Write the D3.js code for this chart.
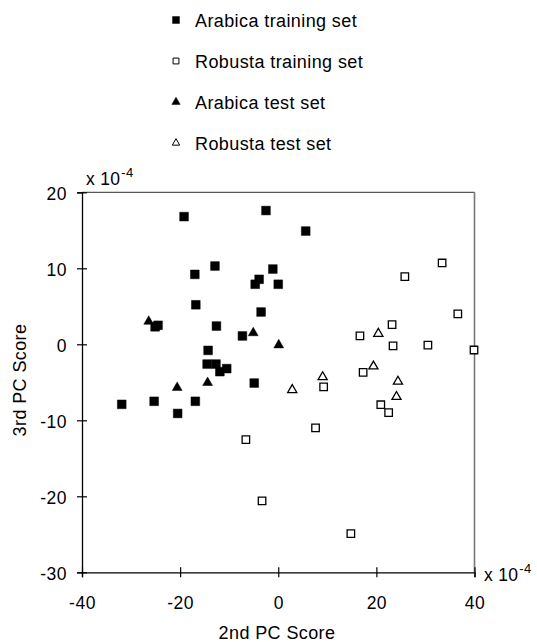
<!DOCTYPE html>
<html>
<head>
<meta charset="utf-8">
<script src="https://cdn.jsdelivr.net/npm/d3@7"></script>
<style>
  body { margin: 0; background: #fff; }
  svg { font-family: "Liberation Sans", Arial, sans-serif; }
</style>
</head>
<body>
<div id="pcaPlot"></div>
<script>
// scores in units of 1e-4
var arabicaTrainX = [-19.2, -2.5, -12.9, -17.0, -1.1, -3.9, -4.7, 0.0, -16.8, -3.5, -24.5, -25.1,
                     -12.6, -7.3, -14.3, -14.5, -12.7, -11.9, -10.5, -4.9, -31.9, -25.3, -16.9, -20.5, 5.6];
var arabicaTrainY = [16.8, 17.6, 10.3, 9.2, 9.9, 8.55, 7.9, 7.9, 5.2, 4.25, 2.5, 2.3,
                     2.4, 1.1, -0.8, -2.6, -2.6, -3.6, -3.2, -5.1, -7.9, -7.5, -7.5, -9.1, 14.9];
var robustaTrainX = [-6.6, -3.3, 33.4, 25.8, 36.6, 23.2, 16.65, 23.4, 30.5, 39.9, 17.3, 9.25, 20.9, 22.5, 7.6, 14.8];
var robustaTrainY = [-12.55, -20.6, 10.7, 8.9, 4.0, 2.6, 1.1, -0.2, -0.1, -0.75, -3.7, -5.6, -7.95, -9.0, -11.0, -24.9];
var arabicaTestX = [-26.4, -5.1, 0.1, -20.6, -14.4];
var arabicaTestY = [3.0, 1.5, -0.1, -5.7, -5.05];
var robustaTestX = [20.4, 19.4, 9.05, 2.85, 24.4, 24.1];
var robustaTestY = [1.4, -2.9, -4.3, -6.0, -4.9, -6.9];

var seriesNames = ["Arabica training set", "Robusta training set", "Arabica test set", "Robusta test set"];
var xTicks = [-40, -20, 0, 20, 40];
var yTicks = [-30, -20, -10, 0, 10, 20];

var width = 537, height = 642;
var plotLeft = 82, plotRight = 474.5, plotTop = 192.3, plotBottom = 572.3;
var fontFam = "Liberation Sans, Arial, sans-serif";

var svg = d3.select("#pcaPlot").append("svg")
    .attr("width", width)
    .attr("height", height);

var x = d3.scaleLinear().domain([-40, 40]).range([plotLeft, plotRight]);
var y = d3.scaleLinear().domain([-30, 20]).range([plotBottom, plotTop]);

// plot frame, top and right edges are grey
svg.append("line").attr("x1", plotLeft).attr("x2", plotRight).attr("y1", plotTop).attr("y2", plotTop)
   .attr("stroke", "#555").attr("stroke-width", 1.3);
svg.append("line").attr("x1", plotRight).attr("x2", plotRight).attr("y1", plotTop).attr("y2", plotBottom)
   .attr("stroke", "#777").attr("stroke-width", 1.6);

// plain hyphen minus like the original
var fmt = function(d) { return String(d); };

// axes with ticks crossing the line
var xAxis = svg.append("g")
    .attr("transform", "translate(0," + plotBottom + ")")
    .call(d3.axisBottom(x).tickValues(xTicks).tickFormat(fmt).tickSize(5).tickPadding(19));
xAxis.selectAll(".tick line").attr("y1", -5).attr("stroke", "#000").attr("stroke-width", 1.2);
xAxis.select(".domain").attr("stroke", "#000").attr("stroke-width", 1.3);
xAxis.selectAll("text").attr("font-size", 17.5).attr("letter-spacing", 0.5)
     .attr("font-family", fontFam).attr("fill", "#000");

var yAxis = svg.append("g")
    .attr("transform", "translate(" + plotLeft + ",0)")
    .call(d3.axisLeft(y).tickValues(yTicks).tickFormat(fmt).tickSize(5).tickPadding(10));
yAxis.selectAll(".tick line").attr("x1", 5).attr("x2", -5).attr("stroke", "#000").attr("stroke-width", 1.2);
yAxis.select(".domain").attr("stroke", "#000").attr("stroke-width", 1.3);
yAxis.selectAll("text").attr("font-size", 17.5).attr("letter-spacing", 0.5).attr("dy", "0.4em")
     .attr("font-family", fontFam).attr("fill", "#000");

// axis titles
svg.append("text").attr("x", 277).attr("y", 639).attr("text-anchor", "middle")
   .attr("font-size", 18).attr("letter-spacing", 0.4).text("2nd PC Score");
svg.append("text").attr("transform", "translate(26,380) rotate(-90)").attr("text-anchor", "middle")
   .attr("font-size", 18).attr("letter-spacing", 0.4).text("3rd PC Score");

// scale multipliers
function multiplier(px, py) {
  var t = svg.append("text").attr("x", px).attr("y", py).attr("font-size", 17.5).attr("letter-spacing", 0.3);
  t.append("tspan").text("x 10");
  t.append("tspan").attr("dy", -8).attr("dx", 1).attr("font-size", 13).text("-4");
}
multiplier(86, 185);
multiplier(484, 581);

var sq = d3.symbol().type(d3.symbolSquare);
var tri = d3.symbol().type(d3.symbolTriangle);

function plotSeries(xs, ys, gen, size, filled) {
  svg.append("g").selectAll("path")
    .data(xs.map(function(d, i) { return [d, ys[i]]; }))
    .enter().append("path")
    .attr("transform", function(d) { return "translate(" + x(d[0]) + "," + y(d[1]) + ")"; })
    .attr("d", gen.size(size)())
    .attr("fill", filled ? "#000" : "#fff")
    .attr("stroke", "#000")
    .attr("stroke-width", filled ? 0.5 : 1.3);
}

plotSeries(robustaTrainX, robustaTrainY, sq, 56, false);
plotSeries(robustaTestX, robustaTestY, tri, 36, false);
plotSeries(arabicaTrainX, arabicaTrainY, sq, 76, true);
plotSeries(arabicaTestX, arabicaTestY, tri, 42, true);

// legend
var legendGen = [[sq, 48, true], [sq, 34, false], [tri, 30, true], [tri, 24, false]];
var legend = svg.append("g").selectAll("g")
    .data(seriesNames)
    .enter().append("g")
    .attr("transform", function(d, i) { return "translate(176," + (20 + i * 41) + ")"; });
legend.append("path")
    .attr("d", function(d, i) { return legendGen[i][0].size(legendGen[i][1])(); })
    .attr("fill", function(d, i) { return legendGen[i][2] ? "#000" : "#fff"; })
    .attr("stroke", "#000")
    .attr("stroke-width", function(d, i) { return legendGen[i][2] ? 0.5 : 1; });
legend.append("text")
    .attr("x", 19).attr("y", 6.5)
    .attr("font-size", 18).attr("letter-spacing", 0.4)
    .text(function(d) { return d; });
</script>
</body>
</html>
